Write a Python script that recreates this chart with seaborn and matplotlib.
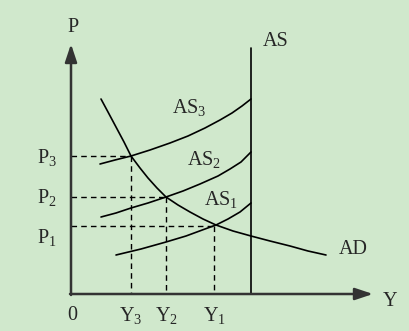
import matplotlib
matplotlib.use("Agg")
import matplotlib.pyplot as plt
import seaborn as sns
import pandas as pd

# Curve data (diagram coordinates; y grows downward)
ad_x = [101, 108, 116, 124, 131, 140, 148, 157, 166, 178, 190, 203, 216, 233, 251, 270, 290, 308, 326]
ad_y = [99, 112, 127, 142, 156, 168, 178, 188, 197, 205, 212, 219, 225, 231, 236, 241, 246, 251, 255]
as3_x = [100, 115, 131, 150, 170, 188, 205, 220, 232, 242, 251]
as3_y = [164, 160, 156, 150, 143, 136, 128, 120, 113, 106, 99]
as2_x = [101, 116, 131, 148, 166, 183, 200, 218, 230, 241, 251]
as2_y = [217, 213, 208, 203, 197, 191, 184, 176, 169, 162, 152]
as1_x = [116, 141, 166, 186, 205, 216, 228, 240, 251]
as1_y = [255, 249, 242, 236, 229, 225, 219, 212, 203]
as_x = [251, 251]
as_y = [48, 294]

# Equilibrium points (Y_i, P_i)
eq_x = [214, 166, 131]
eq_y = [226, 197, 156]
p_labels = ["P$_1$", "P$_2$", "P$_3$"]
y_labels = ["Y$_1$", "Y$_2$", "Y$_3$"]

sns.set_theme(style="white")
plt.rcParams["font.family"] = ["Liberation Serif", "DejaVu Serif"]
plt.rcParams["mathtext.fontset"] = "custom"
plt.rcParams["mathtext.rm"] = "Liberation Serif"
plt.rcParams["mathtext.it"] = "Liberation Serif"

bg = "#D0E8CC"
fig = plt.figure(figsize=(4.10, 3.31), dpi=100, facecolor=bg)
ax = fig.add_axes([0, 0, 1, 1])
ax.set_facecolor(bg)
ax.set_xlim(0, 410)
ax.set_ylim(331, 0)
ax.axis("off")

for xs, ys in [(ad_x, ad_y), (as3_x, as3_y), (as2_x, as2_y), (as1_x, as1_y), (as_x, as_y)]:
    df = pd.DataFrame({"x": xs, "y": ys})
    sns.lineplot(data=df, x="x", y="y", sort=False, color="black", lw=1.2, ax=ax, estimator=None)

# dashed guides
x0, y0 = 71, 294
for ex, ey in zip(eq_x, eq_y):
    ax.plot([x0, ex], [ey, ey], color="black", lw=1.0, ls=(0, (4, 3)))
    ax.plot([ex, ex], [ey, y0], color="black", lw=1.0, ls=(0, (4, 3)))

# axes with arrows
ax.annotate("", xy=(x0, 44), xytext=(x0, y0 + 1),
            arrowprops=dict(arrowstyle="-|>,head_length=0.9,head_width=0.3", color="#333333", lw=1.8, shrinkA=0, shrinkB=0))
ax.annotate("", xy=(373, y0), xytext=(x0 - 1, y0),
            arrowprops=dict(arrowstyle="-|>,head_length=0.9,head_width=0.3", color="#333333", lw=1.8, shrinkA=0, shrinkB=0))

fs = 14.5
ax.text(73, 28, "P", fontsize=fs, ha="center", va="center")
ax.text(390, 302, "Y", fontsize=fs, ha="center", va="center")
ax.text(72, 315, "0", fontsize=fs, ha="center", va="center")
ax.text(263, 42, "AS", fontsize=fs, ha="left", va="center")
ax.text(172, 107, "AS$_3$", fontsize=fs, ha="left", va="center")
ax.text(187, 160, "AS$_2$", fontsize=fs, ha="left", va="center")
ax.text(204, 200, "AS$_1$", fontsize=fs, ha="left", va="center")
ax.text(339, 250, "AD", fontsize=fs, ha="left", va="center")
for ex, ey, pl, yl in zip(eq_x, eq_y, p_labels, y_labels):
    ax.text(47, ey + (1 if pl != "P$_1$" else 12), pl, fontsize=fs, ha="center", va="center")
    ax.text(ex, 316, yl, fontsize=fs, ha="center", va="center")

fig.savefig("out.png", dpi=100, facecolor=bg)
